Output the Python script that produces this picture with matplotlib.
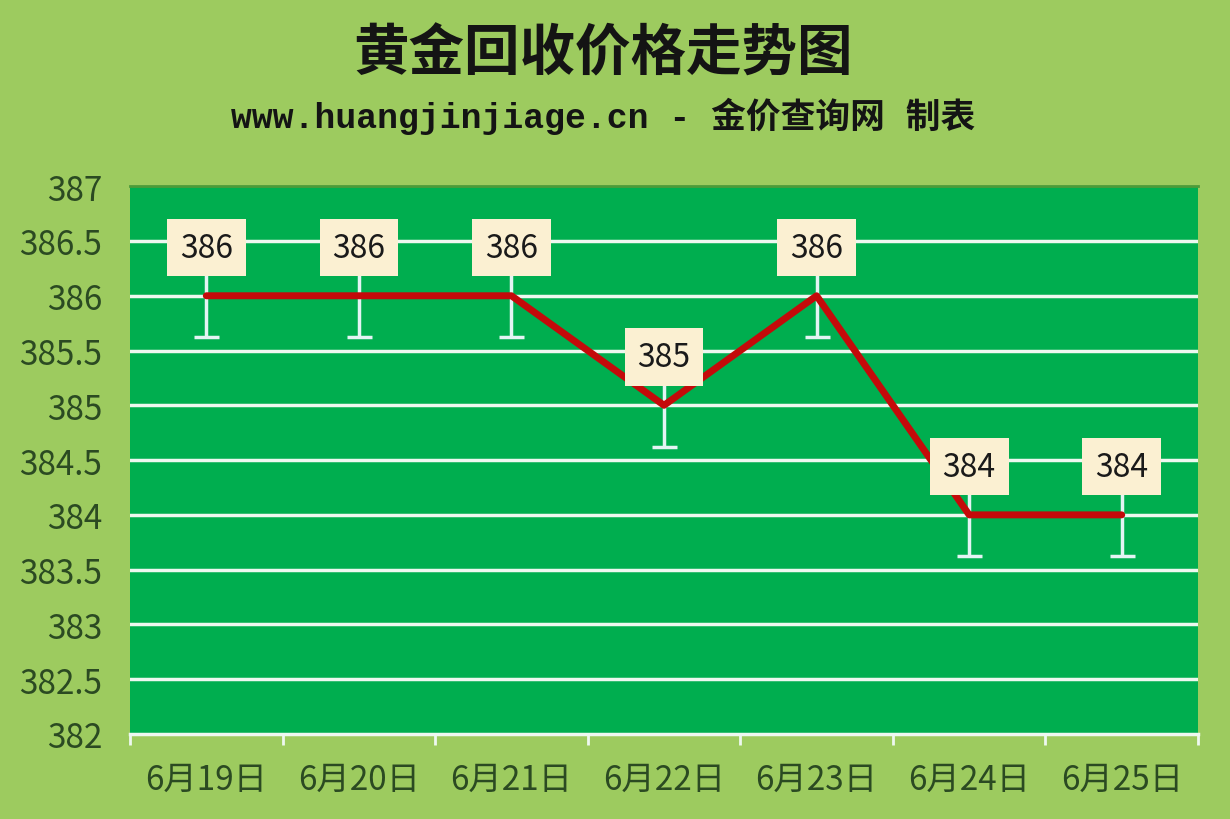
import numpy as np
import matplotlib.pyplot as plt

plt.rcParams['font.family'] = ['Noto Sans CJK SC', 'DejaVu Sans']

dates = ['6月19日', '6月20日', '6月21日', '6月22日', '6月23日', '6月24日', '6月25日']
prices = [386, 386, 386, 385, 386, 384, 384]
err = 0.38
y_ticks = [382, 382.5, 383, 383.5, 384, 384.5, 385, 385.5, 386, 386.5, 387]

bg = '#9dcb5f'
plot_bg = '#00ae4f'
txt = '#2b4a22'

fig = plt.figure(figsize=(12.3, 8.2), dpi=100, facecolor=bg)
ax = fig.add_axes([0.1057, 0.1037, 0.8683, 0.668])
ax.set_facecolor(plot_bg)

x = np.arange(len(dates))
ax.set_xlim(-0.5, len(dates) - 0.5)
ax.set_ylim(382, 387)

# grid
for yv in y_ticks[1:-1]:
    ax.axhline(yv, color='#eef8f0', lw=2.5, zorder=1)

# error bars + line
ax.errorbar(x, prices, yerr=err, fmt='none', ecolor='#e4f4f4', elinewidth=2.5,
            capsize=9, capthick=2.5, zorder=2)
ax.plot(x, prices, color='#c40a0a', lw=5, solid_capstyle='round',
        solid_joinstyle='round', zorder=3)

# value labels
for xi, p in zip(x, prices):
    ax.text(xi, p + 0.44, f'{p}', ha='center', va='center', fontsize=23,
            color='#1a1a1a', zorder=5,
            bbox=dict(boxstyle='square,pad=0.4', fc='#fbf0d2', ec='none'))

ax.set_yticks(y_ticks)
ax.set_yticklabels([f'{v:g}' for v in y_ticks], fontsize=24, color=txt)
ax.set_xticks(x)
ax.set_xticklabels(dates, fontsize=24, color=txt)
ax.set_xticks(np.arange(-0.5, len(dates)), minor=True)
ax.tick_params(axis='y', length=0, pad=20)
ax.tick_params(axis='x', which='major', length=0, pad=20)
ax.tick_params(axis='x', which='minor', length=8, width=2, color='#eef8f0', direction='out')

for s in ['left', 'right']:
    ax.spines[s].set_visible(False)
ax.spines['top'].set_color('#4d9b3a')
ax.spines['top'].set_linewidth(2)
ax.spines['bottom'].set_color('#eef8f0')
ax.spines['bottom'].set_linewidth(2.5)

fig.text(0.49, 0.934, '黄金回收价格走势图', ha='center', va='center', fontsize=40,
         fontweight='bold', color='#141414')
fig.text(0.49, 0.858, 'www.huangjinjiage.cn - 金价查询网 制表', ha='center', va='center',
         fontsize=25, fontweight='bold', color='#141414',
         family=['Liberation Mono', 'Noto Sans CJK SC'])

fig.savefig('out.png', dpi=100, facecolor=bg)
